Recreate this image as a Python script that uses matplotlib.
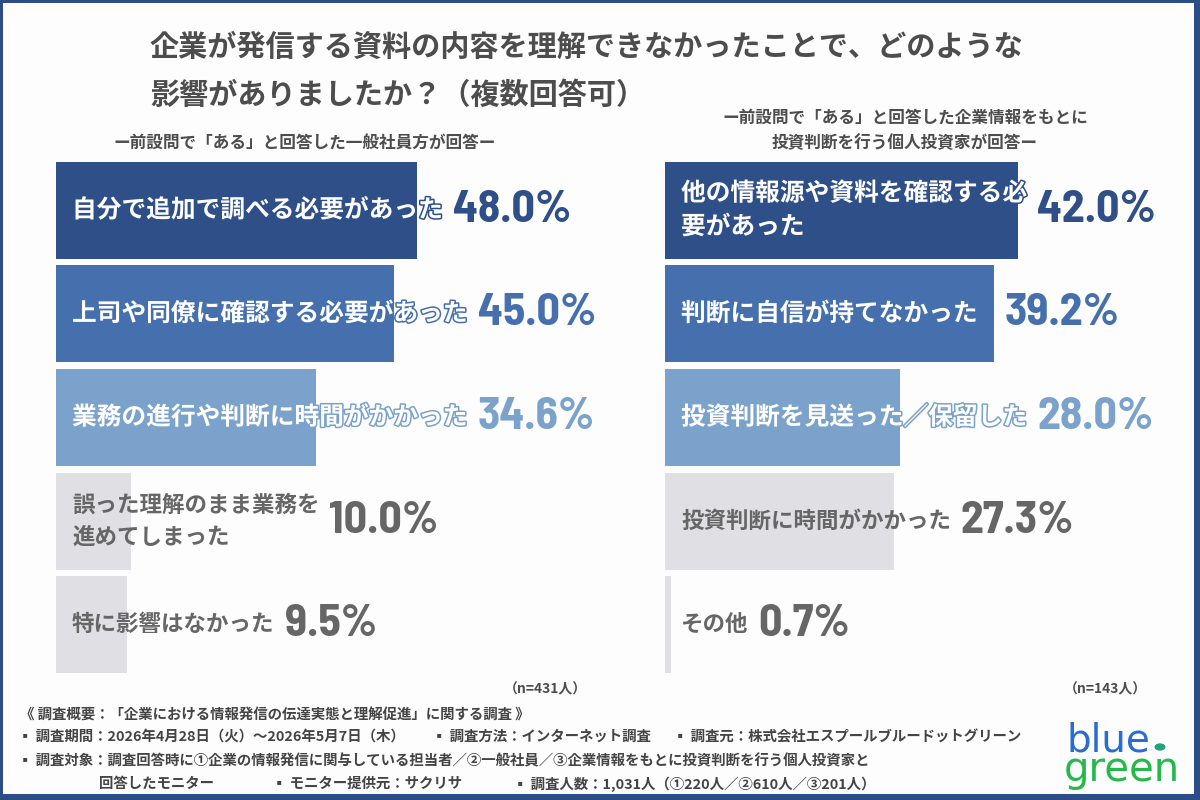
import matplotlib
matplotlib.use("Agg")
import matplotlib.pyplot as plt
import matplotlib.patheffects as pe
from matplotlib import font_manager

# ---------------- data ----------------
title_lines = ["企業が発信する資料の内容を理解できなかったことで、どのような",
               "影響がありましたか？（複数回答可）"]
left_subtitle = "ー前設問で「ある」と回答した一般社員方が回答ー"
right_subtitle = ["ー前設問で「ある」と回答した企業情報をもとに", "投資判断を行う個人投資家が回答ー"]

left_labels = ["自分で追加で調べる必要があった",
               "上司や同僚に確認する必要があった",
               "業務の進行や判断に時間がかかった",
               "誤った理解のまま業務を\n進めてしまった",
               "特に影響はなかった"]
left_values = [48.0, 45.0, 34.6, 10.0, 9.5]
left_n = "（n=431人）"

right_labels = ["他の情報源や資料を確認する必\n要があった",
                "判断に自信が持てなかった",
                "投資判断を見送った／保留した",
                "投資判断に時間がかかった",
                "その他"]
right_values = [42.0, 39.2, 28.0, 27.3, 0.7]
right_n = "（n=143人）"

footer_lines = [
    [(20, "《 調査概要：「企業における情報発信の伝達実態と理解促進」に関する調査 》")],
    [(18, "▪ 調査期間：2026年4月28日（火）～2026年5月7日（木）"),
     (432, "▪ 調査方法：インターネット調査"),
     (673, "▪ 調査元：株式会社エスプールブルードットグリーン")],
    [(18, "▪ 調査対象：調査回答時に①企業の情報発信に関与している担当者／②一般社員／③企業情報をもとに投資判断を行う個人投資家と")],
    [(99, "回答したモニター"),
     (272, "▪ モニター提供元：サクリサ"),
     (513, "▪ 調査人数：1,031人（①220人／②610人／③201人）")],
]
footer_y = [716, 737, 761, 784]

# ---------------- style ----------------
JP = ["Noto Sans CJK JP", "DejaVu Sans"]
avail = {f.name for f in font_manager.fontManager.ttflist}
NUM = None
for cand in ["Barlow Semi Condensed", "Barlow Condensed", "Roboto Condensed",
             "Saira Semi Condensed", "Archivo Narrow", "Liberation Sans Narrow",
             "Oswald", "Roboto"]:
    if cand in avail:
        NUM = [cand, "DejaVu Sans"]
        break
if NUM is None:
    NUM = ["DejaVu Sans"]
plt.rcParams["font.family"] = JP

BORDER = "#2c4d86"
BG = "#fdfdfd"
TXT = "#4d4d4d"
bar_colors = ["#2f4f88", "#4570ad", "#7aa2ca", "#e0dfe3", "#e0dfe3"]
val_colors = ["#2f4f88", "#4570ad", "#7aa2ca", "#666666", "#666666"]
lab_colors = ["white", "white", "white", "#666666", "#666666"]
lab_sizes = [17.8, 17.8, 17.8, 16.2, 16.2]

W, H = 1200, 800
fig = plt.figure(figsize=(12, 8), dpi=100)
fig.patch.set_facecolor(BORDER)

def fx(px):
    return px / W

def fy(py):
    return 1 - py / H

bg = fig.add_axes([fx(3), 6 / H, fx(W - 3 - 6), (H - 3 - 6) / H])
bg.set_facecolor(BG)
bg.set_xticks([]); bg.set_yticks([])
for s in bg.spines.values():
    s.set_visible(False)

# title
fig.text(fx(150), fy(47), title_lines[0], fontsize=21, fontweight="bold", color=TXT, va="center", ha="left")
fig.text(fx(150), fy(95), title_lines[1], fontsize=21, fontweight="bold", color=TXT, va="center", ha="left")

# subtitles
fig.text(fx(305), fy(143), left_subtitle, fontsize=12, fontweight="bold", color=TXT, ha="center", va="center")
fig.text(fx(905), fy(118), right_subtitle[0], fontsize=12, fontweight="bold", color=TXT, ha="center", va="center")
fig.text(fx(905), fy(143), right_subtitle[1], fontsize=12, fontweight="bold", color=TXT, ha="center", va="center")

# panels
top_px, pitch = 158.5, 103.6
n = 5
panels = [
    dict(left=56, width=560, scale=361 / 48.0, labels=left_labels, values=left_values),
    dict(left=665, width=520, scale=353 / 42.0, labels=right_labels, values=right_values),
]

fig.canvas.draw()
renderer = fig.canvas.get_renderer()

for p in panels:
    ax = fig.add_axes([fx(p["left"]), fy(top_px + n * pitch), fx(p["width"]), n * pitch / H])
    ax.set_xlim(0, p["width"] / p["scale"])
    ax.set_ylim(n - 0.5, -0.5)
    ax.axis("off")
    ys = list(range(n))
    ax.barh(ys, p["values"], height=0.935, color=bar_colors, edgecolor="none")
    labels = []
    for i, (lab, v) in enumerate(zip(p["labels"], p["values"])):
        kw = {}
        if lab_colors[i] == "white":
            kw["path_effects"] = [pe.withStroke(linewidth=2.2, foreground=bar_colors[i])]
        t = ax.annotate(lab, xy=(0, i), xytext=(16, 0), textcoords="offset pixels",
                        fontsize=lab_sizes[i], fontweight="bold", color=lab_colors[i],
                        ha="left", va="center", linespacing=1.5, **kw)
        labels.append(t)
    fig.canvas.draw()
    for i, (t, v) in enumerate(zip(labels, p["values"])):
        bb = t.get_window_extent(renderer)
        bar_end = ax.transData.transform((v, i))[0]
        x_disp = max(bb.x1, bar_end) + 10
        xd = ax.transData.inverted().transform((x_disp, 0))[0]
        ax.text(xd, i, f"{v:.1f}%", fontsize=33, fontweight="bold", family=NUM,
                color=val_colors[i], ha="left", va="center", clip_on=False)

# n labels
fig.text(fx(545), fy(689), left_n, fontsize=10, fontweight="bold", color=TXT, ha="center", va="center")
fig.text(fx(1105), fy(689), right_n, fontsize=10, fontweight="bold", color=TXT, ha="center", va="center")

# footer
for y, items in zip(footer_y, footer_lines):
    for x, s in items:
        fig.text(fx(x), fy(y), s, fontsize=10.4, fontweight="bold", color="#444444",
                 ha="left", va="center", family=JP)

# logo
fig.text(fx(1067), fy(752), "blue", fontsize=28, color="#2a6cd0", ha="left", va="baseline",
         family=["DejaVu Sans"])
fig.text(fx(1064), fy(781), "green", fontsize=29, color="#25b84a", ha="left", va="baseline",
         family=["DejaVu Sans"])
fig.patches.append(matplotlib.patches.Circle((fx(1160), fy(747)), 5.5 / W, transform=fig.transFigure,
                                             facecolor="#23a27c", edgecolor="none"))

fig.savefig("out.png", dpi=100, facecolor=fig.get_facecolor())
